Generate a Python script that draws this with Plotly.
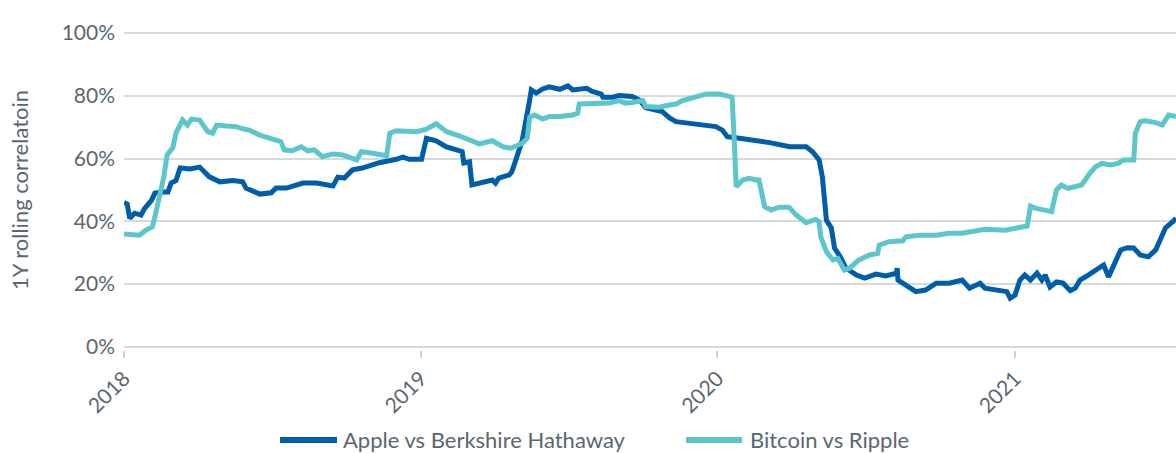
import plotly.graph_objects as go

# Apple vs Berkshire Hathaway (1Y rolling correlation, %)
apple_dates = [
    "2018-01-01", "2018-01-05", "2018-01-08", "2018-01-14", "2018-01-22", "2018-01-26",
    "2018-02-04", "2018-02-08", "2018-02-18", "2018-02-24", "2018-02-28", "2018-03-06",
    "2018-03-11", "2018-03-23", "2018-04-04", "2018-04-16", "2018-04-29", "2018-05-15",
    "2018-05-27", "2018-05-31", "2018-06-17", "2018-07-01", "2018-07-07", "2018-07-20",
    "2018-08-09", "2018-08-26", "2018-09-15", "2018-09-21", "2018-09-29", "2018-10-09",
    "2018-10-21", "2018-11-11", "2018-12-02", "2018-12-10", "2018-12-18", "2019-01-02",
    "2019-01-08", "2019-01-20", "2019-02-01", "2019-02-13", "2019-02-21", "2019-02-23",
    "2019-03-02", "2019-03-05", "2019-03-18", "2019-03-30", "2019-04-03", "2019-04-07",
    "2019-04-20", "2019-04-23", "2019-04-28", "2019-05-06", "2019-05-15", "2019-05-17",
    "2019-05-23", "2019-05-31", "2019-06-08", "2019-06-21", "2019-07-01", "2019-07-07",
    "2019-07-24", "2019-07-31", "2019-08-11", "2019-08-13", "2019-08-25", "2019-09-02",
    "2019-09-18", "2019-09-27", "2019-10-05", "2019-10-25", "2019-11-03", "2019-11-11",
    "2019-11-23", "2019-12-10", "2019-12-30", "2020-01-07", "2020-01-13", "2020-01-28",
    "2020-02-13", "2020-03-05", "2020-03-30", "2020-04-19", "2020-04-27", "2020-05-05",
    "2020-05-09", "2020-05-14", "2020-05-20", "2020-05-24", "2020-05-31", "2020-06-07",
    "2020-06-20", "2020-06-30", "2020-07-14", "2020-07-26", "2020-08-08", "2020-08-09",
    "2020-08-10", "2020-08-20", "2020-09-01", "2020-09-13", "2020-09-26", "2020-10-12",
    "2020-10-28", "2020-11-06", "2020-11-19", "2020-11-25", "2020-12-11", "2020-12-22",
    "2020-12-26", "2021-01-01", "2021-01-07", "2021-01-13", "2021-01-20", "2021-01-28",
    "2021-02-03", "2021-02-07", "2021-02-13", "2021-02-21", "2021-03-01", "2021-03-10",
    "2021-03-16", "2021-03-22", "2021-04-01", "2021-04-10", "2021-04-20", "2021-04-26",
    "2021-05-01", "2021-05-05", "2021-05-11", "2021-05-19", "2021-05-27", "2021-06-04",
    "2021-06-14", "2021-06-23", "2021-06-29", "2021-07-05", "2021-07-14", "2021-07-18",
]
apple_values = [
    46.0, 45.5, 41.0, 42.6, 42.0, 44.0,
    46.8, 49.0, 49.4, 49.4, 52.2, 53.0,
    57.0, 56.7, 57.3, 54.2, 52.6, 53.0,
    52.6, 50.6, 48.7, 49.1, 50.6, 50.6,
    52.2, 52.2, 51.3, 54.1, 53.8, 56.4,
    57.0, 58.7, 59.8, 60.5, 59.8, 59.8,
    66.5, 65.7, 63.8, 62.8, 62.2, 58.6,
    59.0, 51.6, 52.6, 53.2, 52.2, 53.8,
    54.8, 55.8, 59.6, 66.0, 78.7, 81.9,
    80.9, 82.2, 82.9, 82.1, 83.2, 81.9,
    82.4, 81.4, 80.6, 79.6, 79.6, 80.1,
    79.8, 78.7, 76.2, 75.0, 73.0, 71.8,
    71.4, 70.7, 70.2, 69.1, 67.0, 66.5,
    66.0, 65.1, 63.8, 63.8, 62.2, 59.6,
    54.2, 40.4, 37.9, 31.5, 28.7, 25.1,
    22.9, 21.9, 23.2, 22.6, 23.5, 25.1,
    21.3, 19.7, 17.6, 18.1, 20.3, 20.3,
    21.3, 18.7, 20.3, 18.7, 17.9, 17.6,
    15.5, 16.5, 21.3, 22.9, 21.3, 23.5,
    21.3, 22.9, 19.1, 20.7, 20.3, 17.9,
    18.7, 21.3, 22.9, 24.5, 26.1, 22.3,
    25.1, 27.7, 30.9, 31.6, 31.5, 29.3,
    28.7, 30.9, 34.0, 37.9, 39.9, 41.0,
]

# Bitcoin vs Ripple (1Y rolling correlation, %)
btc_dates = [
    "2018-01-01", "2018-01-20", "2018-01-28", "2018-02-05", "2018-02-09", "2018-02-15",
    "2018-02-19", "2018-02-23", "2018-03-02", "2018-03-06", "2018-03-14", "2018-03-20",
    "2018-03-25", "2018-04-04", "2018-04-10", "2018-04-14", "2018-04-20", "2018-04-25",
    "2018-05-07", "2018-05-19", "2018-05-27", "2018-06-04", "2018-06-17", "2018-07-03",
    "2018-07-13", "2018-07-17", "2018-07-27", "2018-08-07", "2018-08-15", "2018-08-23",
    "2018-09-02", "2018-09-15", "2018-09-27", "2018-10-14", "2018-10-20", "2018-11-03",
    "2018-11-20", "2018-11-24", "2018-12-02", "2018-12-27", "2019-01-08", "2019-01-20",
    "2019-02-02", "2019-02-18", "2019-03-02", "2019-03-14", "2019-03-30", "2019-04-12",
    "2019-04-22", "2019-05-06", "2019-05-12", "2019-05-15", "2019-05-21", "2019-05-31",
    "2019-06-08", "2019-06-21", "2019-07-07", "2019-07-13", "2019-07-15", "2019-07-31",
    "2019-08-21", "2019-09-02", "2019-09-10", "2019-09-18", "2019-10-01", "2019-10-05",
    "2019-10-21", "2019-11-03", "2019-11-11", "2019-11-19", "2019-12-06", "2019-12-18",
    "2020-01-03", "2020-01-19", "2020-01-22", "2020-01-24", "2020-02-01", "2020-02-09",
    "2020-02-17", "2020-02-21", "2020-02-28", "2020-03-07", "2020-03-17", "2020-03-29",
    "2020-04-07", "2020-04-19", "2020-05-01", "2020-05-05", "2020-05-07", "2020-05-14",
    "2020-05-22", "2020-05-28", "2020-06-05", "2020-06-11", "2020-06-23", "2020-07-06",
    "2020-07-16", "2020-07-18", "2020-07-30", "2020-08-16", "2020-08-20", "2020-09-05",
    "2020-09-26", "2020-10-12", "2020-10-28", "2020-11-25", "2020-12-20", "2021-01-01",
    "2021-01-16", "2021-01-20", "2021-01-26", "2021-02-15", "2021-02-21", "2021-02-27",
    "2021-03-07", "2021-03-24", "2021-03-28", "2021-04-03", "2021-04-10", "2021-04-18",
    "2021-04-28", "2021-05-08", "2021-05-14", "2021-05-27", "2021-05-29", "2021-06-04",
    "2021-06-10", "2021-06-23", "2021-07-01", "2021-07-09", "2021-07-18",
]
btc_values = [
    36.0, 35.6, 37.2, 38.3, 42.6, 50.0,
    54.2, 61.2, 63.4, 68.2, 72.3, 70.7,
    72.6, 72.3, 70.2, 68.6, 68.1, 70.7,
    70.4, 70.2, 69.5, 69.1, 67.5, 66.0,
    65.4, 62.8, 62.5, 63.8, 62.5, 62.8,
    60.6, 61.5, 61.2, 59.6, 62.2, 61.7,
    60.9, 68.1, 68.9, 68.6, 69.4, 71.1,
    68.6, 67.2, 66.0, 64.7, 65.7, 63.8,
    63.3, 64.9, 66.5, 73.2, 73.9, 72.6,
    73.4, 73.4, 73.9, 74.5, 77.4, 77.4,
    77.7, 78.5, 77.7, 77.9, 78.5, 76.6,
    76.4, 77.1, 77.4, 78.5, 79.6, 80.6,
    80.6, 79.6, 63.8, 51.0, 53.2, 53.7,
    53.2, 53.2, 44.7, 43.6, 44.5, 44.5,
    42.0, 39.6, 40.6, 39.9, 35.1, 30.3,
    27.7, 28.2, 24.5, 25.0, 27.7, 29.3,
    29.8, 32.4, 33.5, 33.8, 35.1, 35.6,
    35.6, 36.2, 36.2, 37.5, 37.2, 37.8,
    38.5, 44.9, 44.2, 43.1, 50.0, 51.6,
    50.5, 51.6, 53.2, 55.3, 57.4, 58.5,
    58.0, 58.5, 59.6, 59.6, 68.1, 71.8,
    72.1, 71.5, 70.7, 73.9, 73.4,
]

series_names = ["Apple vs Berkshire Hathaway", "Bitcoin vs Ripple"]
year_ticks = ["2018-01-01", "2019-01-01", "2020-01-01", "2021-01-01"]
year_labels = ["2018", "2019", "2020", "2021"]
pct_ticks = [0, 20, 40, 60, 80, 100]
pct_labels = ["0%", "20%", "40%", "60%", "80%", "100%"]

TEXT = "#5b6770"
FONT = "Lato"
COLORS = ["#005daa", "#5cc6cb"]

W, H = 1176, 453
ML, MR, MT, MB = 124, 0, 30, 103
PW, PH = W - ML - MR, H - MT - MB


def px_to_paper(px, py):
    return (px - ML) / PW, (H - MB - py) / PH


fig = go.Figure()
fig.add_trace(go.Scatter(
    x=apple_dates, y=apple_values, mode="lines", name=series_names[0],
    line=dict(color=COLORS[0], width=5), showlegend=False,
))
fig.add_trace(go.Scatter(
    x=btc_dates, y=btc_values, mode="lines", name=series_names[1],
    line=dict(color=COLORS[1], width=5), showlegend=False,
))

# custom legend (long line symbols like the reference)
legend_items = [(280, 337, 342), (686, 742, 749)]
LEG_Y = 440
shapes, annotations = [], []
for (x0, x1, tx), name, col in zip(legend_items, series_names, COLORS):
    a0, yy = px_to_paper(x0, LEG_Y)
    a1, _ = px_to_paper(x1, LEG_Y)
    shapes.append(dict(type="line", xref="paper", yref="paper", x0=a0, x1=a1, y0=yy, y1=yy,
                       line=dict(color=col, width=6)))
    at, ty = px_to_paper(tx, LEG_Y - 1)
    annotations.append(dict(text=name, xref="paper", yref="paper", x=at, y=ty,
                            xanchor="left", yanchor="middle", showarrow=False, borderpad=0,
                            font=dict(family=FONT, size=22, color=TEXT)))

fig.update_layout(
    width=W, height=H,
    margin=dict(l=ML, r=MR, t=MT, b=MB),
    plot_bgcolor="white", paper_bgcolor="white",
    font=dict(family=FONT, size=21, color=TEXT),
    showlegend=False,
    shapes=shapes, annotations=annotations,
    xaxis=dict(
        type="date", range=["2018-01-01", "2021-07-18"], automargin=False,
        tickmode="array", tickvals=year_ticks, ticktext=year_labels,
        tickangle=-45, ticks="outside", ticklen=7, tickwidth=1.5, tickcolor="#d0d0d0",
        showgrid=False, showline=False, zeroline=False,
        tickfont=dict(family=FONT, size=21, color=TEXT),
    ),
    yaxis=dict(
        range=[-1, 101], automargin=False,
        tickmode="array", tickvals=pct_ticks, ticktext=pct_labels,
        showgrid=True, gridcolor="#d9d9d9", gridwidth=2,
        zeroline=False, showline=False, ticks="", ticklabelstandoff=8,
        tickfont=dict(family=FONT, size=21, color=TEXT),
        title=dict(text="1Y rolling correlatoin", font=dict(family=FONT, size=22, color=TEXT), standoff=26),
    ),
)

fig.write_html(
    "out.html",
    config={"displayModeBar": False},
    post_script="document.body.style.margin='0';document.body.style.overflow='hidden';",
)
